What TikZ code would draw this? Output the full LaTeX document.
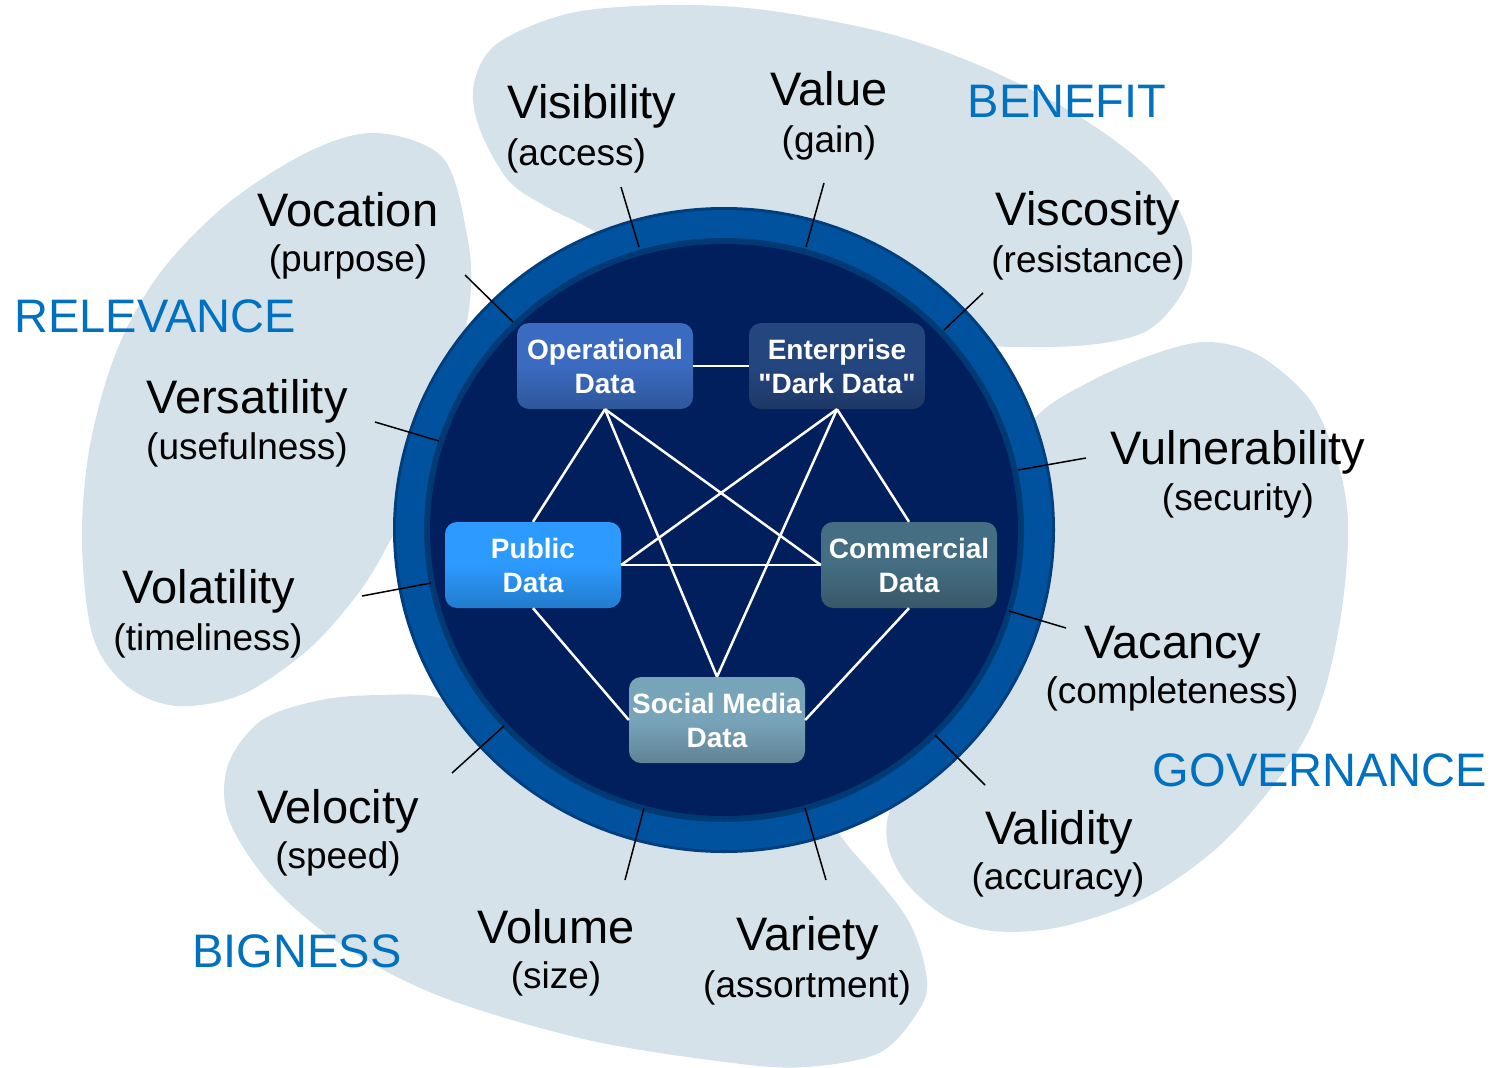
\documentclass[tikz,border=0pt]{standalone}
\usepackage{fontspec}
\setmainfont{Liberation Sans}
\definecolor{petal}{RGB}{213,226,234}
\definecolor{ringblue}{RGB}{0,82,158}
\definecolor{ringedge}{RGB}{0,62,126}
\definecolor{innerband}{RGB}{0,58,117}
\definecolor{navy}{RGB}{0,31,92}
\definecolor{catblue}{RGB}{0,112,192}
\definecolor{opc}{RGB}{58,107,192}
\definecolor{entc}{RGB}{36,70,127}
\definecolor{pubc}{RGB}{44,154,255}
\definecolor{comc}{RGB}{69,110,130}
\definecolor{socc}{RGB}{120,164,186}
\tikzset{
  mainlbl/.style={font=\fontsize{47}{50}\selectfont, anchor=base, inner sep=0pt},
  sublbl/.style={font=\fontsize{37}{40}\selectfont, anchor=base, inner sep=0pt},
  catlbl/.style={font=\fontsize{47}{50}\selectfont, text=catblue, anchor=base, inner sep=0pt},
  databox/.style={rounded corners=12pt, minimum width=176pt, minimum height=86pt,
    inner sep=0pt, align=center, text=white, font=\fontsize{28}{34}\selectfont\bfseries,
    top color=#1, bottom color=#1!80!black, middle color=#1},
  link/.style={white, line width=2.5pt},
  tickline/.style={black, line width=1.5pt},
  petalfill/.style={fill=petal}
}
\begin{document}
\begin{tikzpicture}[x=1pt, y=-1pt]
\useasboundingbox (0,0) rectangle (1499,1068);
% petals
\fill[petalfill] plot[smooth cycle, tension=0.55] coordinates {
 (595,232) (547,207) (508,180) (479,127) (474,83) (498,43) (571,13) (668,5) (765,10)
 (886,33) (983,67) (1080,117) (1153,173) (1189,233) (1187,283) (1153,327) (1104,343)
 (1032,347) (960,340) (800,290) (660,280)};
\fill[petalfill] plot[smooth cycle, tension=0.55] coordinates {
 (990,500) (1033,420) (1093,380) (1160,352) (1210,342) (1260,356) (1310,400) (1337,461)
 (1348,521) (1343,601) (1327,682) (1303,742) (1260,802) (1210,854) (1143,899) (1060,927)
 (993,931) (943,915) (900,874) (887,822) (920,740) (980,620)};
\fill[petalfill] plot[smooth cycle, tension=0.55] coordinates {
 (520,730) (441,698) (380,695) (321,700) (262,720) (228,765) (229,820) (273,887) (345,947)
 (442,997) (588,1040) (733,1063) (806,1067) (879,1053) (917,1013) (927,980) (908,920)
 (854,853) (800,800) (680,790)};
\fill[petalfill] plot[smooth cycle, tension=0.55] coordinates {
 (377,133) (443,158) (467,235) (470,300) (450,400) (410,500) (390,541) (360,591) (310,648)
 (243,694) (177,706) (127,686) (93,637) (82,541) (90,445) (117,350) (160,273) (227,204) (310,151)};
% circle
\fill[ringedge] (724,530) ellipse [x radius=331pt, y radius=323pt];
\fill[ringblue] (724,530) ellipse [x radius=328pt, y radius=320pt];
\fill[innerband] (724,530) ellipse [x radius=300pt, y radius=292pt];
\fill[navy] (724,530) ellipse [x radius=294pt, y radius=286pt];
% tick coordinates
\coordinate (visA) at (639,247); \coordinate (visB) at (621,187);
\coordinate (valA) at (806,247); \coordinate (valB) at (824,183);
\coordinate (viscA) at (944,330); \coordinate (viscB) at (983,293);
\coordinate (vulA) at (1018,470); \coordinate (vulB) at (1086,458);
\coordinate (vacA) at (1009,611); \coordinate (vacB) at (1066,628);
\coordinate (validA) at (935,735); \coordinate (validB) at (985,785);
\coordinate (varA) at (805,808); \coordinate (varB) at (826,880);
\coordinate (volA) at (644,808); \coordinate (volB) at (625,880);
\coordinate (velA) at (504,726); \coordinate (velB) at (452,773);
\coordinate (volaA) at (431,583); \coordinate (volaB) at (362,596);
\coordinate (versA) at (439,441); \coordinate (versB) at (375,422);
\coordinate (vocA) at (513,322); \coordinate (vocB) at (465,275);
\foreach \t in {vis,val,visc,vul,vac,valid,var,vol,vel,vola,vers,voc}
  \draw[tickline] (\t A) -- (\t B);
% boxes
\node[databox=opc] (op) at (605,366) {Operational\\Data};
\node[databox=entc] (ent) at (837,366) {Enterprise\\\textquotedbl Dark Data\textquotedbl};
\node[databox=pubc] (pub) at (533,565) {Public\\Data};
\node[databox=comc] (com) at (909,565) {Commercial\\Data};
\node[databox=socc] (soc) at (717,720) {Social Media\\Data};
% links
\draw[link] (op.east) -- (ent.west);
\draw[link] (op.south) -- (pub.north);
\draw[link] (op.south) -- (soc.north);
\draw[link] (op.south) -- (com.west);
\draw[link] (ent.south) -- (pub.east);
\draw[link] (ent.south) -- (soc.north);
\draw[link] (ent.south) -- (com.north);
\draw[link] (pub.east) -- (com.west);
\draw[link] (pub.south) -- (soc.west);
\draw[link] (com.south) -- (soc.east);
% labels
\node[mainlbl] (visM) at (592,118) {Visibility};
\node[sublbl] (visS) at (576,165) {(access)};
\node[mainlbl] (valM) at (829,105) {Value};
\node[sublbl] (valS) at (829,152) {(gain)};
\node[catlbl] (benefit) at (1067,117) {BENEFIT};
\node[mainlbl] (viscM) at (1088,225) {Viscosity};
\node[sublbl] (viscS) at (1088,272) {(resistance)};
\node[mainlbl] (vulM) at (1238,464) {Vulnerability};
\node[sublbl] (vulS) at (1238,510) {(security)};
\node[mainlbl] (vacM) at (1173,658) {Vacancy};
\node[sublbl] (vacS) at (1172,703) {(completeness)};
\node[catlbl] (gov) at (1320,786) {GOVERNANCE};
\node[mainlbl] (validM) at (1059,844) {Validity};
\node[sublbl] (validS) at (1058,889) {(accuracy)};
\node[mainlbl] (varM) at (808,950) {Variety};
\node[sublbl] (varS) at (807,997) {(assortment)};
\node[mainlbl] (volM) at (556,943) {Volume};
\node[sublbl] (volS) at (556,988) {(size)};
\node[catlbl] (big) at (297,967) {BIGNESS};
\node[mainlbl] (velM) at (338,823) {Velocity};
\node[sublbl] (velS) at (338,868) {(speed)};
\node[mainlbl] (volaM) at (209,603) {Volatility};
\node[sublbl] (volaS) at (208,650) {(timeliness)};
\node[mainlbl] (versM) at (247,413) {Versatility};
\node[sublbl] (versS) at (247,459) {(usefulness)};
\node[catlbl] (rel) at (155,332) {RELEVANCE};
\node[mainlbl] (vocM) at (348,226) {Vocation};
\node[sublbl] (vocS) at (348,271) {(purpose)};
\end{tikzpicture}
\end{document}
